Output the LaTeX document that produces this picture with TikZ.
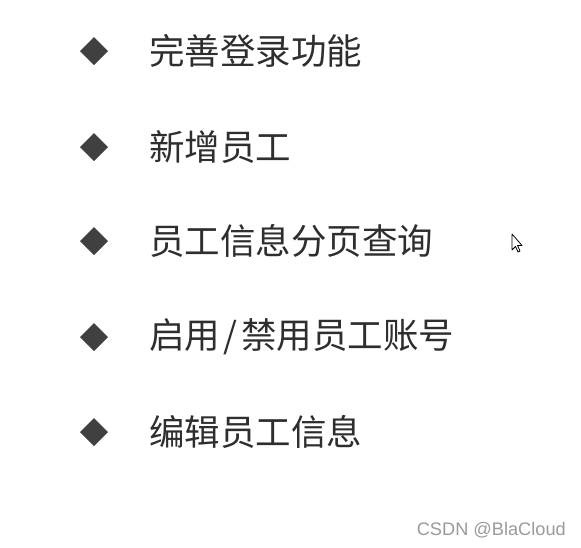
\documentclass[tikz,border=0pt]{standalone}
\usepackage{fontspec}
\newfontfamily\cjk{Noto Sans CJK SC}
\newfontfamily\wm{Liberation Sans}
\definecolor{txt}{HTML}{2E2E30}
\definecolor{dia}{HTML}{404042}
\definecolor{wmc}{HTML}{9A9A9A}
\begin{document}
\begin{tikzpicture}[x=1pt,y=-1pt,
  item/.style={anchor=west,inner sep=0pt,text=txt,font=\cjk\fontsize{35.5}{35.5}\selectfont},
  bullet/.style={fill=dia,draw=none}]
\useasboundingbox[fill=white] (0,0) rectangle (581,547);
\foreach \y in {51,147,241,337,432}{
  \fill[bullet] (94,\y-14) -- (108,\y) -- (94,\y+14) -- (80,\y) -- cycle;
}
\node[item] (t1) at (149,51) {完善登录功能};
\node[item] (t2) at (149,147) {新增员工};
\node[item] (t3) at (149,241) {员工信息分页查询};
\node[item] (t4) at (149,337) {启用\hspace{3.5pt}/\hspace{3.5pt}禁用员工账号};
\node[item] (t5) at (149,432) {编辑员工信息};
\draw[black,fill=white,line width=0.8pt,line join=round]
  (512,234) -- (512,250) -- (515.5,246.5) -- (518,252) -- (520,251) -- (517.5,245.5) -- (522,245.5) -- cycle;
\node[anchor=east,inner sep=0pt,text=wmc,font=\wm\fontsize{18.2}{18.2}\selectfont] (wm) at (566,530) {CSDN @BlaCloud};
\end{tikzpicture}
\end{document}
